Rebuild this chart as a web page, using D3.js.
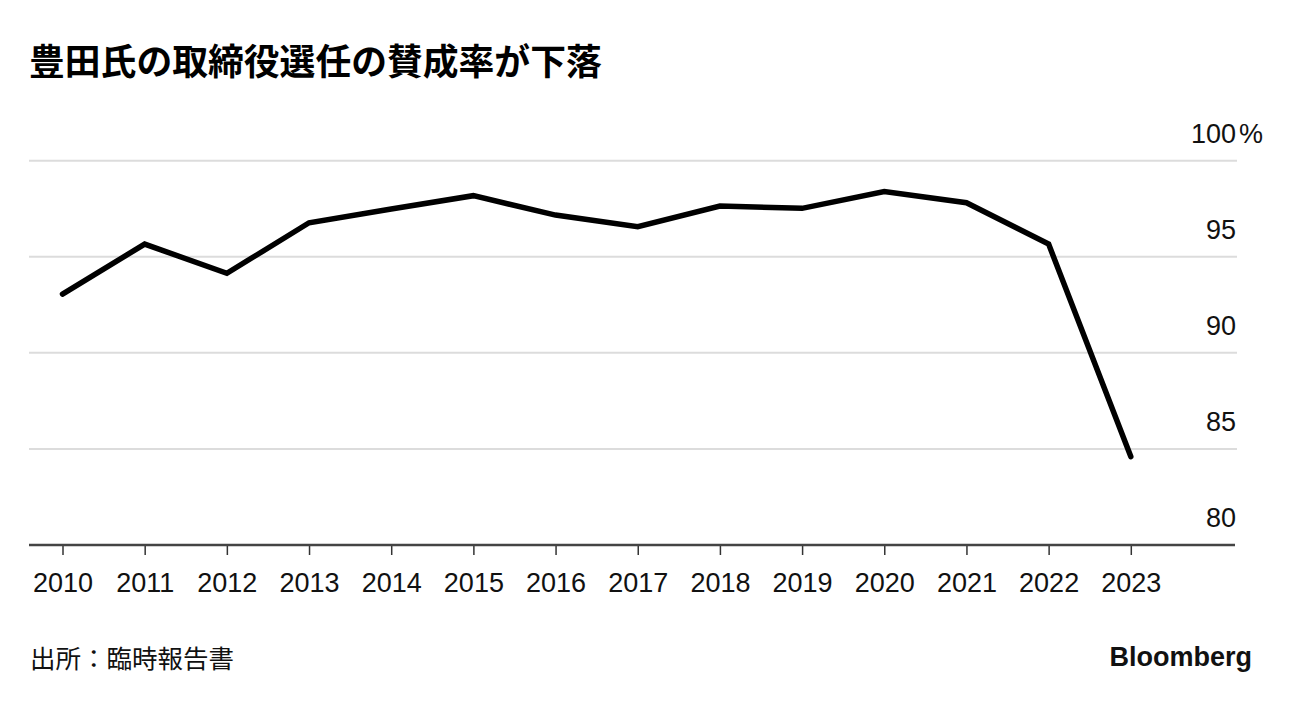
<!DOCTYPE html>
<html>
<head>
<meta charset="utf-8">
<script src="https://cdn.jsdelivr.net/npm/d3@7"></script>
<style>
  html, body { margin: 0; padding: 0; background: #fff; }
  svg { display: block; }
</style>
</head>
<body>
<svg id="chart" width="1292" height="702"></svg>
<script>
const years = [2010, 2011, 2012, 2013, 2014, 2015, 2016, 2017, 2018, 2019, 2020, 2021, 2022, 2023];
const approval = [93.06, 95.66, 94.14, 96.77, 97.49, 98.18, 97.17, 96.57, 97.64, 97.52, 98.39, 97.81, 95.66, 84.6];
const yTicks = [80, 85, 90, 95, 100];
const titleText = "豊田氏の取締役選任の賛成率が下落";
const sourceText = "出所：臨時報告書";
const brandText = "Bloomberg";

const svg = d3.select("#chart");
const plotLeft = 29, plotRight = 1237, plotTop = 160.7, plotBottom = 545;

const x = d3.scaleLinear().domain([2010, 2023]).range([62.5, 1130.8]);
const y = d3.scaleLinear().domain([80, 100]).range([plotBottom, plotTop]);

const latin = "'Liberation Sans', Arimo, Helvetica, Arial, sans-serif";
const cjk = "'Noto Sans CJK JP', 'Noto Sans CJK SC', sans-serif";

// title
svg.append("text").attr("x", 29).attr("y", 75)
  .attr("font-family", cjk).attr("font-weight", 700).attr("font-size", 35.8)
  .attr("fill", "#000").text(titleText);

// gridlines
const grid = svg.append("g");
grid.selectAll("line").data(yTicks.filter(d => d !== 80)).join("line")
  .attr("x1", plotLeft).attr("x2", plotRight)
  .attr("y1", d => y(d)).attr("y2", d => y(d))
  .attr("stroke", "#dcdcdc").attr("stroke-width", 2);

// y labels
const yl = svg.append("g");
yl.selectAll("text").data(yTicks).join("text")
  .attr("x", 1236).attr("y", d => y(d) - 18)
  .attr("text-anchor", "end")
  .attr("font-family", latin).attr("font-size", 27).attr("fill", "#111")
  .text(d => d);
yl.append("text").attr("x", 1239).attr("y", y(100) - 18)
  .attr("font-family", latin).attr("font-size", 27).attr("fill", "#111")
  .text("%");

// x axis
const xAxis = d3.axisBottom(x).tickValues(years).tickFormat(d3.format("d")).tickSize(10).tickSizeOuter(0);
const gx = svg.append("g").attr("transform", `translate(0,${plotBottom})`).call(xAxis);
gx.select(".domain").remove();
gx.selectAll(".tick line").attr("stroke", "#333").attr("stroke-width", 1.5);
gx.selectAll(".tick text").attr("font-family", latin).attr("font-size", 27)
  .attr("fill", "#111").attr("y", 0).attr("dy", 0)
  .attr("transform", "translate(0,47)");
svg.append("line").attr("x1", plotLeft).attr("x2", 1235)
  .attr("y1", plotBottom).attr("y2", plotBottom)
  .attr("stroke", "#444").attr("stroke-width", 2.5);

// line
const line = d3.line().x((d, i) => x(years[i])).y(d => y(d));
svg.append("path").datum(approval)
  .attr("d", line).attr("fill", "none")
  .attr("stroke", "#000").attr("stroke-width", 5.5)
  .attr("stroke-linejoin", "miter").attr("stroke-linecap", "round");

// source
svg.append("text").attr("x", 30).attr("y", 668)
  .attr("font-family", cjk).attr("font-size", 25.5).attr("fill", "#111")
  .text(sourceText);

// brand
svg.append("text").attr("x", 1252).attr("y", 666).attr("text-anchor", "end")
  .attr("font-family", latin).attr("font-weight", 700).attr("font-size", 27)
  .attr("fill", "#111").text(brandText);
</script>
</body>
</html>
